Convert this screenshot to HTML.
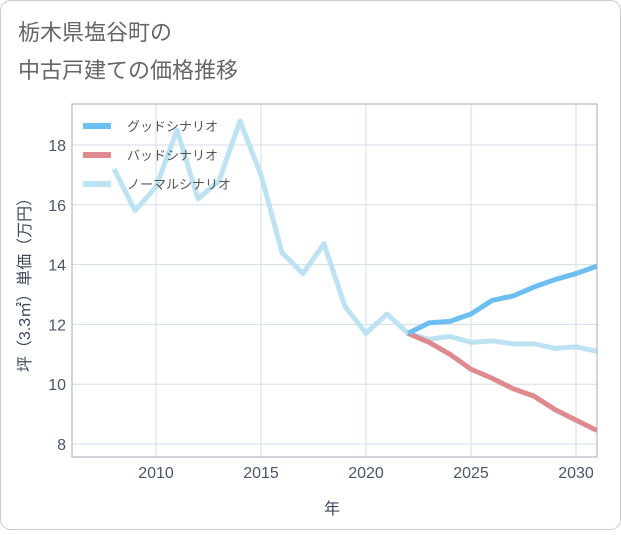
<!DOCTYPE html>
<html><head><meta charset="utf-8"><style>
body{margin:0;background:#fff}
svg text{font-family:"Liberation Sans","Noto Sans CJK JP",sans-serif}
</style></head><body>
<svg width="621" height="530" viewBox="0 0 621 530">
<rect x="0.5" y="0.5" width="620" height="529" rx="10" fill="#fff" stroke="#ccc"/>
<text x="18" y="40" font-size="22" fill="#666">栃木県塩谷町の</text>
<text x="18" y="78" font-size="22" fill="#666">中古戸建ての価格推移</text>
<g id="grid"></g>
<g id="series"></g>
<g id="axes"></g>
<g id="legend"></g>
<text x="332" y="514" font-size="16" fill="#3d4a5c" text-anchor="middle">年</text>
<text transform="translate(30,281) rotate(-90)" font-size="16" fill="#3d4a5c" text-anchor="middle">坪（3.3㎡）単価（万円）</text>
</svg>
<script>
const years=[2008,2009,2010,2011,2012,2013,2014,2015,2016,2017,2018,2019,2020,2021,2022,2023,2024,2025,2026,2027,2028,2029,2030,2031];
const normal=[17.2,15.8,16.6,18.5,16.2,16.8,18.8,17.0,14.4,13.7,14.7,12.6,11.7,12.35,11.7,11.5,11.6,11.4,11.45,11.35,11.35,11.2,11.25,11.1];
const goodYears=[2022,2023,2024,2025,2026,2027,2028,2029,2030,2031];
const good=[11.7,12.05,12.1,12.35,12.8,12.95,13.25,13.5,13.7,13.95];
const bad=[11.7,11.4,11.0,10.5,10.2,9.85,9.6,9.15,8.8,8.45];
const xTicks=[2010,2015,2020,2025,2030];
const yTicks=[8,10,12,14,16,18];
const L=72,R=597,T=104,B=457;
const x=v=>L+(v-2006)/(2031-2006)*(R-L);
const y=v=>444+(8-v)*29.9;
const ns="http://www.w3.org/2000/svg";
function mk(tag,attrs,parent){const e=document.createElementNS(ns,tag);for(const k in attrs)e.setAttribute(k,attrs[k]);document.getElementById(parent).appendChild(e);return e;}
xTicks.forEach(t=>{const l=mk('line',{x1:x(t),x2:x(t),y1:T,y2:B,stroke:'#d5dde5','stroke-width':1},'grid');


const tx=mk('text',{x:x(t),y:B+21,'font-size':16,fill:'#4a5668','text-anchor':'middle'},'axes');tx.textContent=t;

});
yTicks.forEach(t=>{const l=mk('line',{x1:L,x2:R,y1:y(t),y2:y(t),stroke:'#d5dde5','stroke-width':1},'grid');


const tx=mk('text',{x:L-6,y:y(t)+6,'font-size':16,fill:'#4a5668','text-anchor':'end'},'axes');tx.textContent=t;

});
const fr=mk('rect',{x:L,y:T,width:R-L,height:B-T,fill:'none',stroke:'#aab','stroke-width':1},'axes');


function line(xs,vs,color,name){const p=mk('polyline',{points:xs.map((v,i)=>x(v)+','+y(vs[i])).join(' '),fill:'none',stroke:color,'stroke-width':5,'stroke-linejoin':'round'},'series');

}
line(years,normal,'#bde3f2','normal-scenario-line');
line(goodYears,bad,'#de8a8e','bad-scenario-line');
line(goodYears,good,'#6cbff0','good-scenario-line');
[['グッドシナリオ','#6cbff0'],['バッドシナリオ','#de8a8e'],['ノーマルシナリオ','#bde3f2']].forEach((d,i)=>{const yy=126+i*29;
const s=mk('line',{x1:83,x2:111,y1:yy,y2:yy,stroke:d[1],'stroke-width':6},'legend');


const t=mk('text',{x:127,y:yy+5,'font-size':13,fill:'#555'},'legend');t.textContent=d[0];

});
</script>
</body></html>
